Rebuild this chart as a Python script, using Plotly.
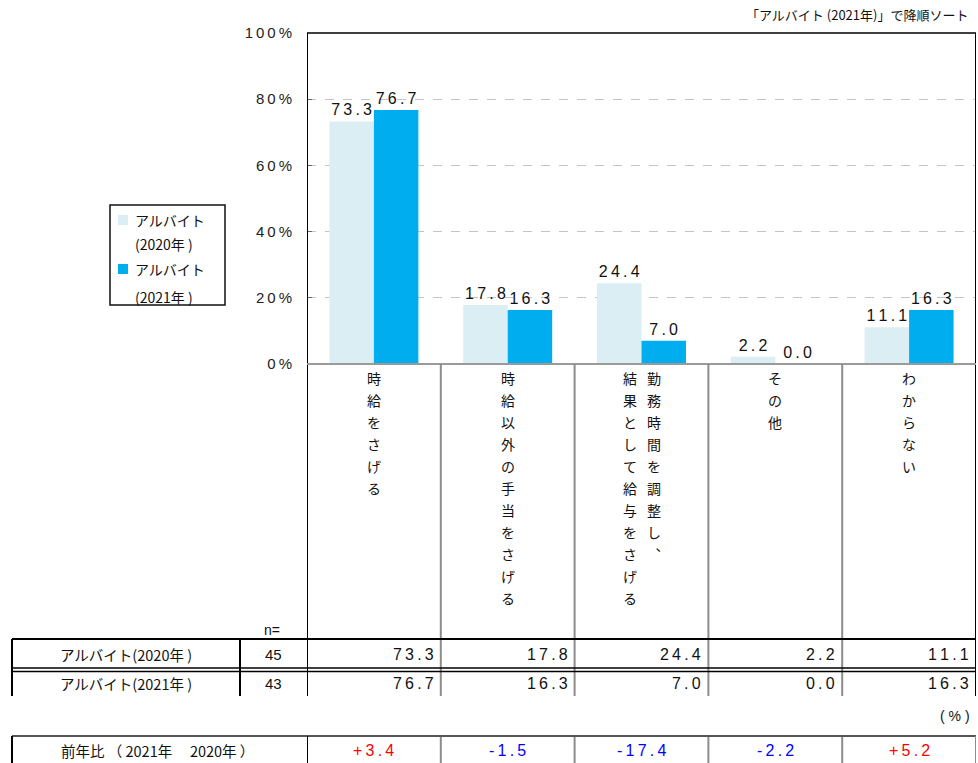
import plotly.graph_objects as go

# ---- data -------------------------------------------------------------
categories = [
    "時給をさげる",
    "時給以外の手当をさげる",
    "勤務時間を調整し、\n結果として給与をさげる",
    "その他",
    "わからない",
]
series_names = ["アルバイト(2020年 )", "アルバイト(2021年 )"]
values_2020 = [73.3, 17.8, 24.4, 2.2, 11.1]
values_2021 = [76.7, 16.3, 7.0, 0.0, 16.3]
sample_sizes = [45, 43]
y_tick_values = [0, 20, 40, 60, 80, 100]
sort_note = "「アルバイト (2021年)」で降順ソート"
diff_row_label = "前年比 （ 2021年　 2020年 ）"
unit_note = "( % )"
n_label = "n="

# ---- styling ----------------------------------------------------------
W, H = 978, 763
COLOR_2020 = "#DAEEF3"
COLOR_2021 = "#00AEEF"
JP_FONT = "Noto Sans CJK JP"
NUM_FONT = "Liberation Sans, Arial"
GRAY = "#8C8C8C"


def fx(px):
    return px / W


def fy(py):
    return 1 - py / H


def spaced(s):
    # wide-tracked numerals
    return "\u2009".join(s)


x_pos = list(range(len(categories)))
series_values = [values_2020, values_2021]
series_colors = [COLOR_2020, COLOR_2021]

fig = go.Figure()
for name, vals, col in zip(series_names, series_values, series_colors):
    fig.add_trace(go.Bar(
        x=x_pos, y=vals, name=name,
        marker=dict(color=col, line=dict(width=0)),
        text=[spaced(f"{v:.1f}") for v in vals],
        textposition="outside",
        textfont=dict(family=NUM_FONT, size=16, color="#111"),
        constraintext="none",
        cliponaxis=False,
        showlegend=False,
    ))

shapes = []
annotations = []


def line(x0, y0, x1, y1, color="black", width=1.5, xref="paper"):
    shapes.append(dict(type="line", xref=xref, yref="paper",
                       x0=x0, y0=y0, x1=x1, y1=y1,
                       line=dict(color=color, width=width)))


def text(x, y, s, size=14, family=JP_FONT, color="#111", xanchor="center",
         xref="paper", xshift=0):
    annotations.append(dict(x=x, y=y, xref=xref, yref="paper", text=s,
                            showarrow=False, xanchor=xanchor, yanchor="middle",
                            xshift=xshift,
                            font=dict(family=family, size=size, color=color)))


ncat = len(categories)
left_edge, right_edge = -0.5, ncat - 0.5

# plot frame
line(left_edge, fy(33), right_edge, fy(33), xref="x", width=1.5)
line(left_edge, fy(33), left_edge, fy(696), xref="x", width=2)
line(right_edge, fy(33), right_edge, fy(696), xref="x", width=2)
line(left_edge, fy(364), right_edge, fy(364), color="#9A9A9A", xref="x", width=2)

# category dividers through label area and value table
for i in range(ncat - 1):
    line(i + 0.5, fy(364), i + 0.5, fy(696), color=GRAY, xref="x", width=2)
    line(i + 0.5, fy(736), i + 0.5, fy(763), color=GRAY, xref="x", width=2)

# vertical category labels (columns read right to left)
vert_map = {"、": "\ufe11"}
for i, cat in enumerate(categories):
    cols = cat.split("\n")
    k = len(cols)
    for j, col_text in enumerate(cols):
        offset = ((k - 1) / 2 - j) * 24
        for r, ch in enumerate(col_text):
            text(i, fy(378 + 22 * r), vert_map.get(ch, ch), size=14,
                 xref="x", xshift=offset)

# value table
line(fx(12), fy(639), fx(976), fy(639), width=2)
line(fx(12), fy(668), fx(976), fy(668), width=1.5)
line(fx(12), fy(671.5), fx(976), fy(671.5), width=1.5)
line(fx(12), fy(639), fx(12), fy(696), width=2)
line(fx(240), fy(639), fx(240), fy(696), width=2)
text(fx(272), fy(630), n_label, size=14, family=NUM_FONT)

row_y = [654, 683]
for name, n, vals, ry in zip(series_names, sample_sizes, series_values, row_y):
    text(fx(126), fy(ry), name, size=14.5)
    text(fx(273), fy(ry), str(n), size=15, family=NUM_FONT)
    for i, v in enumerate(vals):
        text(i + 0.5, fy(ry), spaced(f"{v:.1f}"), size=16, family=NUM_FONT,
             xanchor="right", xref="x", xshift=-5)

text(fx(955), fy(716), unit_note, size=14, family=NUM_FONT)

# year-over-year row
line(fx(12), fy(736), fx(976), fy(736), color="#555", width=2)
line(fx(12), fy(736), fx(12), fy(763), width=2)
line(left_edge, fy(736), left_edge, fy(763), xref="x", width=2)
line(right_edge, fy(736), right_edge, fy(763), color=GRAY, xref="x", width=2)
text(fx(157), fy(750), diff_row_label, size=14.5)
for i, (a, b) in enumerate(zip(values_2020, values_2021)):
    d = round(b - a, 1)
    col = "#FF0000" if d > 0 else "#0000FF"
    text(i, fy(750), spaced(f"{d:+.1f}"), size=16, family=NUM_FONT,
         color=col, xref="x")

# legend box
shapes.append(dict(type="rect", xref="paper", yref="paper",
                   x0=fx(110), y0=fy(205), x1=fx(225), y1=fy(305),
                   line=dict(color="#111", width=1.5), fillcolor="white"))
leg_rows = [(220, 244), (269, 297)]
for name, col, (y1, y2) in zip(series_names, series_colors, leg_rows):
    shapes.append(dict(type="rect", xref="paper", yref="paper",
                       x0=fx(118), y0=fy(y1 - 5), x1=fx(128), y1=fy(y1 + 5),
                       line=dict(width=0), fillcolor=col))
    head, tail = name.split("(")
    text(fx(133), fy(y1), head, size=14, xanchor="left")
    text(fx(133), fy(y2), "(" + tail, size=14, xanchor="left")

# sort note
text(fx(970), fy(14), sort_note, size=13, xanchor="right")

fig.update_layout(
    template="none",
    width=W, height=H, autosize=False,
    margin=dict(l=0, r=0, t=0, b=0, pad=0, autoexpand=False),
    paper_bgcolor="white", plot_bgcolor="white",
    barmode="group", bargap=0.335, bargroupgap=0,
    shapes=shapes, annotations=annotations,
    xaxis=dict(domain=[fx(307), fx(976)], range=[left_edge, right_edge],
               showticklabels=False, showgrid=False, zeroline=False,
               showline=False, fixedrange=True, automargin=False),
    yaxis=dict(domain=[fy(364), fy(33)], range=[0, 100],
               tickvals=y_tick_values,
               ticktext=[spaced(f"{v}%") for v in y_tick_values],
               tickfont=dict(family=NUM_FONT, size=15, color="#222"),
               ticks="inside", ticklen=5, tickcolor="#666",
               ticklabelstandoff=14, automargin=False,
               showgrid=True, gridcolor="#C4C4C4", griddash="dash",
               gridwidth=1, zeroline=False, showline=False),
)

fig.write_html("out.html")
